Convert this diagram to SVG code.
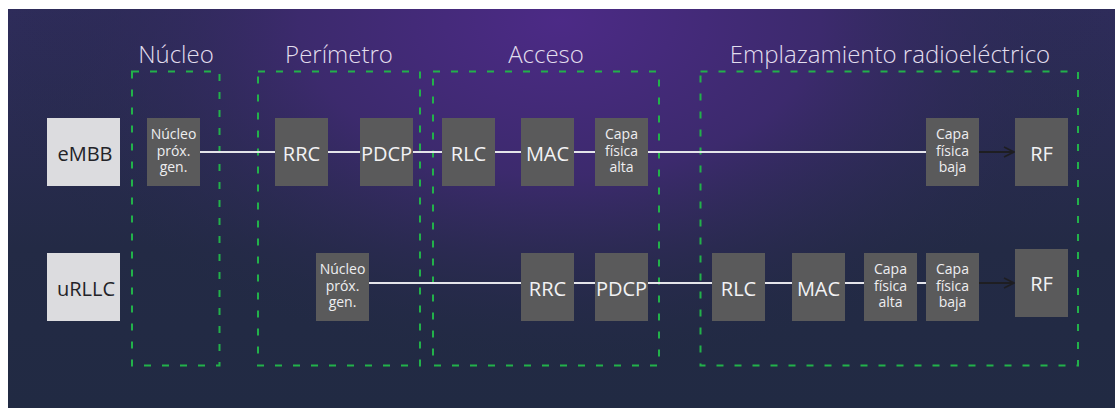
<svg xmlns="http://www.w3.org/2000/svg" width="1115" height="408" viewBox="0 0 1115 408">
  <defs>
    <radialGradient id="bgGlow" gradientUnits="userSpaceOnUse" cx="560" cy="20" r="580" gradientTransform="translate(560 20) scale(1 0.6) translate(-560 -20)">
      <stop offset="0" stop-color="#4c2a86"/>
      <stop offset="0.45" stop-color="#3c2a6d"/>
      <stop offset="1" stop-color="#222a44" stop-opacity="0"/>
    </radialGradient>
    <linearGradient id="bgBase" x1="0" y1="0" x2="0" y2="1">
      <stop offset="0" stop-color="#2f2c5c"/>
      <stop offset="0.6" stop-color="#232a45"/>
      <stop offset="1" stop-color="#212a43"/>
    </linearGradient>
    <marker id="arrow" viewBox="0 0 12 12" refX="11" refY="6" markerWidth="12" markerHeight="12" markerUnits="userSpaceOnUse" orient="auto">
      <path d="M1 1 L11 6 L1 11" fill="none" stroke="#1e1e22" stroke-width="1.6"/>
    </marker>
    <style>
      .zone { fill: none; stroke: #22b24a; stroke-width: 2; stroke-dasharray: 7 11; }
      .title { font-family: "Open Sans", "Liberation Sans", sans-serif; font-weight: 300; font-size: 24px; fill: #e2deee; text-anchor: middle; }
      .svc { fill: #dcdcdf; }
      .svc-label { font-family: "Open Sans", "Liberation Sans", sans-serif; font-size: 20px; fill: #232328; text-anchor: middle; }
      .fn { fill: #5a5a5b; }
      .fn-label { font-family: "Open Sans", "Liberation Sans", sans-serif; font-size: 20px; fill: #f2f2f4; text-anchor: middle; }
      .fn-small { font-family: "Open Sans", "Liberation Sans", sans-serif; font-size: 14px; fill: #eeeef0; text-anchor: middle; }
      .link { stroke: #e4e4ea; stroke-width: 2; fill: none; }
      .arrow { stroke: #1e1e22; stroke-width: 2; fill: none; marker-end: url(#arrow); }
    </style>
  </defs>

  <!-- backdrop -->
  <rect x="0" y="0" width="1115" height="408" fill="#ffffff"/>
  <rect x="8" y="9" width="1107" height="399" fill="url(#bgBase)"/>
  <rect x="8" y="9" width="1107" height="399" fill="url(#bgGlow)"/>

  <!-- zone titles -->
  <g id="titles">
    <text class="title" x="176" y="63">Núcleo</text>
    <text class="title" x="339" y="63">Perímetro</text>
    <text class="title" x="546" y="63">Acceso</text>
    <text class="title" x="890" y="63">Emplazamiento radioeléctrico</text>
  </g>

  <!-- zones -->
  <g id="zones">
    <rect id="zone-nucleo" class="zone" x="132" y="71.5" width="87.5" height="294"/>
    <rect id="zone-perimetro" class="zone" x="258" y="71.5" width="162" height="294"/>
    <rect id="zone-acceso" class="zone" x="433" y="71.5" width="226" height="294"/>
    <rect id="zone-emplazamiento" class="zone" x="700.5" y="71.5" width="377.5" height="294"/>
  </g>

  <!-- connectors -->
  <g id="connectors">
    <line class="link" x1="200" y1="152" x2="275" y2="152"/>
    <line class="link" x1="328" y1="152" x2="360" y2="152"/>
    <line class="link" x1="413" y1="152" x2="442" y2="152"/>
    <line class="link" x1="495" y1="152" x2="521" y2="152"/>
    <line class="link" x1="574" y1="152" x2="595" y2="152"/>
    <line class="link" x1="648" y1="152" x2="926" y2="152"/>
    <line class="arrow" x1="979" y1="152" x2="1014" y2="152"/>

    <line class="link" x1="369" y1="283" x2="521" y2="283"/>
    <line class="link" x1="574" y1="283" x2="595" y2="283"/>
    <line class="link" x1="648" y1="283" x2="712" y2="283"/>
    <line class="link" x1="765" y1="283" x2="792" y2="283"/>
    <line class="link" x1="845" y1="283" x2="864" y2="283"/>
    <line class="link" x1="917" y1="283" x2="926" y2="283"/>
    <line class="arrow" x1="979" y1="283" x2="1014" y2="283"/>
  </g>

  <!-- eMBB row -->
  <g id="embb">
    <rect class="svc" x="47" y="118" width="73" height="68"/>
    <text class="svc-label" x="85" y="161">eMBB</text>
  </g>
  <g id="embb-core">
    <rect class="fn" x="147" y="118" width="53" height="68"/>
    <text class="fn-small" x="173.5" y="139">Núcleo</text>
    <text class="fn-small" x="173.5" y="156">próx.</text>
    <text class="fn-small" x="173.5" y="172">gen.</text>
  </g>
  <g id="embb-rrc">
    <rect class="fn" x="275" y="118" width="53" height="68"/>
    <text class="fn-label" x="301.5" y="161">RRC</text>
  </g>
  <g id="embb-pdcp">
    <rect class="fn" x="360" y="118" width="53" height="68"/>
    <text class="fn-label" x="386.5" y="161">PDCP</text>
  </g>
  <g id="embb-rlc">
    <rect class="fn" x="442" y="118" width="53" height="68"/>
    <text class="fn-label" x="468.5" y="161">RLC</text>
  </g>
  <g id="embb-mac">
    <rect class="fn" x="521" y="118" width="53" height="68"/>
    <text class="fn-label" x="547.5" y="161">MAC</text>
  </g>
  <g id="embb-phy-high">
    <rect class="fn" x="595" y="118" width="53" height="68"/>
    <text class="fn-small" x="621.5" y="139">Capa</text>
    <text class="fn-small" x="621.5" y="156">física</text>
    <text class="fn-small" x="621.5" y="172">alta</text>
  </g>
  <g id="embb-phy-low">
    <rect class="fn" x="926" y="118" width="53" height="68"/>
    <text class="fn-small" x="952.5" y="139">Capa</text>
    <text class="fn-small" x="952.5" y="156">física</text>
    <text class="fn-small" x="952.5" y="172">baja</text>
  </g>
  <g id="embb-rf">
    <rect class="fn" x="1015" y="118" width="53" height="68"/>
    <text class="fn-label" x="1041.5" y="161">RF</text>
  </g>

  <!-- uRLLC row -->
  <g id="urllc">
    <rect class="svc" x="47" y="253" width="73" height="68"/>
    <text class="svc-label" x="86" y="296">uRLLC</text>
  </g>
  <g id="urllc-core">
    <rect class="fn" x="316" y="253" width="53" height="68"/>
    <text class="fn-small" x="342.5" y="274">Núcleo</text>
    <text class="fn-small" x="342.5" y="291">próx.</text>
    <text class="fn-small" x="342.5" y="307">gen.</text>
  </g>
  <g id="urllc-rrc">
    <rect class="fn" x="521" y="253" width="53" height="68"/>
    <text class="fn-label" x="547.5" y="296">RRC</text>
  </g>
  <g id="urllc-pdcp">
    <rect class="fn" x="595" y="253" width="53" height="68"/>
    <text class="fn-label" x="621.5" y="296">PDCP</text>
  </g>
  <g id="urllc-rlc">
    <rect class="fn" x="712" y="253" width="53" height="68"/>
    <text class="fn-label" x="738.5" y="296">RLC</text>
  </g>
  <g id="urllc-mac">
    <rect class="fn" x="792" y="253" width="53" height="68"/>
    <text class="fn-label" x="818.5" y="296">MAC</text>
  </g>
  <g id="urllc-phy-high">
    <rect class="fn" x="864" y="253" width="53" height="68"/>
    <text class="fn-small" x="890.5" y="274">Capa</text>
    <text class="fn-small" x="890.5" y="291">física</text>
    <text class="fn-small" x="890.5" y="307">alta</text>
  </g>
  <g id="urllc-phy-low">
    <rect class="fn" x="926" y="253" width="53" height="68"/>
    <text class="fn-small" x="952.5" y="274">Capa</text>
    <text class="fn-small" x="952.5" y="291">física</text>
    <text class="fn-small" x="952.5" y="307">baja</text>
  </g>
  <g id="urllc-rf">
    <rect class="fn" x="1015" y="249" width="53" height="68"/>
    <text class="fn-label" x="1041.5" y="291">RF</text>
  </g>
</svg>
